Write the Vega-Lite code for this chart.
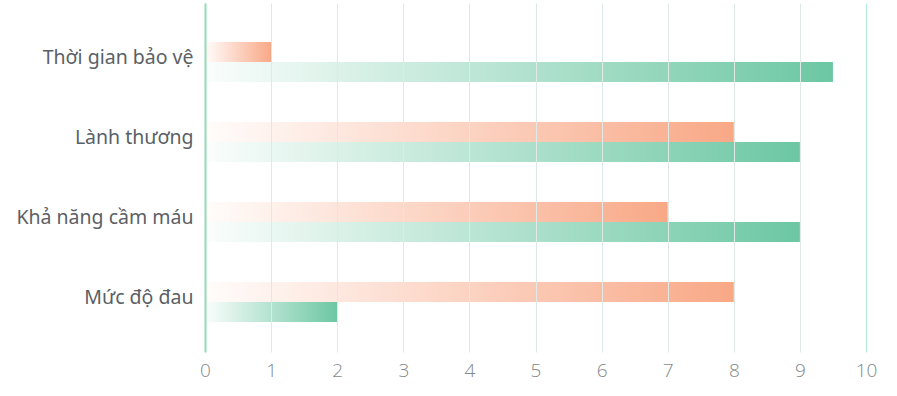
{
  "$schema": "https://vega.github.io/schema/vega-lite/v6.json",
  "width": 661,
  "height": 349,
  "autosize": "none",
  "padding": {"left": 205, "top": 3, "right": 31, "bottom": 44},
  "background": "white",
  "config": {"view": {"stroke": null}},
  "data": {
    "values": [
      {"category": "Thời gian bảo vệ", "series": "A", "value": 1},
      {"category": "Thời gian bảo vệ", "series": "B", "value": 9.5},
      {"category": "Lành thương", "series": "A", "value": 8},
      {"category": "Lành thương", "series": "B", "value": 9},
      {"category": "Khả năng cầm máu ", "series": "A", "value": 7},
      {"category": "Khả năng cầm máu ", "series": "B", "value": 9},
      {"category": "Mức độ đau ", "series": "A", "value": 8},
      {"category": "Mức độ đau ", "series": "B", "value": 2}
    ]
  },
  "encoding": {
    "y": {
      "field": "category",
      "type": "nominal",
      "sort": null,
      "scale": {"paddingInner": 0.5, "paddingOuter": 0.431, "align": 0.565},
      "axis": {
        "title": null,
        "ticks": false,
        "grid": false,
        "domainColor": "#92dcb6",
        "domainWidth": 2,
        "labelFont": "Noto Sans",
        "labelFontSize": 19.5,
        "labelColor": "#5b5f66",
        "labelPadding": 12,
        "labelOffset": -4,
        "labelLimit": 300,
        "zindex": 1
      }
    },
    "yOffset": {"field": "series", "type": "nominal", "scale": {"domain": ["A", "B"], "paddingInner": 0, "paddingOuter": 0}},
    "x": {
      "field": "value",
      "type": "quantitative",
      "scale": {"domain": [0, 10], "nice": false},
      "axis": {
        "title": null,
        "values": [0,1,2,3,4,5,6,7,8,9,10],
        "domain": false,
        "ticks": false,
        "grid": true,
        "gridColor": {"condition": {"test": "datum.value === 10", "value": "#b2ecd4"}, "value": "#dfe9e5"},
        "gridWidth": 1,
        "labelOverlap": false,
        "labelFlush": false,
        "labelBound": false,
        "labelFont": "Open Sans",
        "labelFontWeight": 300,
        "labelFontSize": 19,
        "labelColor": "#7f8a8c",
        "labelPadding": 9,
        "zindex": 1
      }
    }
  },
  "layer": [
    {
      "transform": [{"filter": "datum.series === 'A'"}],
      "mark": {
        "type": "bar",
        "color": {
          "gradient": "linear", "x1": 0, "y1": 0, "x2": 1, "y2": 0,
          "stops": [
            {"offset": 0, "color": "rgba(250,170,138,0.03)"},
            {"offset": 1, "color": "#f8a886"}
          ]
        }
      }
    },
    {
      "transform": [{"filter": "datum.series === 'B'"}],
      "mark": {
        "type": "bar",
        "color": {
          "gradient": "linear", "x1": 0, "y1": 0, "x2": 1, "y2": 0,
          "stops": [
            {"offset": 0, "color": "rgba(108,200,164,0.03)"},
            {"offset": 1, "color": "#6cc7a3"}
          ]
        }
      }
    }
  ]
}
